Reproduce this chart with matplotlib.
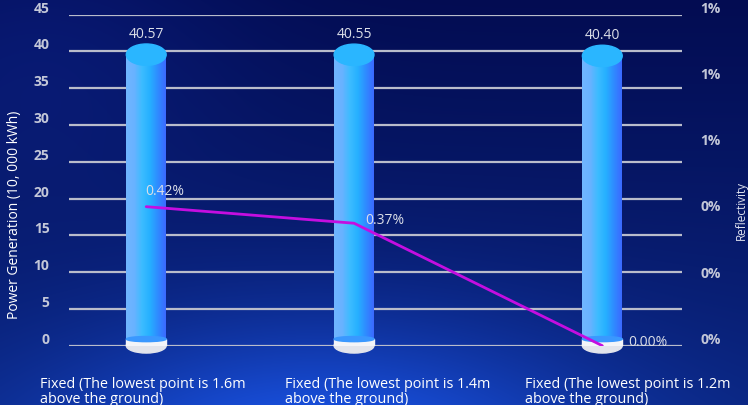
import numpy as np
import matplotlib
matplotlib.use("Agg")
import matplotlib.pyplot as plt
from matplotlib.patches import Ellipse, Rectangle
from matplotlib.colors import LinearSegmentedColormap

plt.rcParams['font.family'] = ['Open Sans', 'DejaVu Sans']

categories = ["Fixed (The lowest point is 1.6m\nabove the ground)",
              "Fixed (The lowest point is 1.4m\nabove the ground)",
              "Fixed (The lowest point is 1.2m\nabove the ground)"]
power = [40.57, 40.55, 40.40]          # 10,000 kWh
reflect = [0.42, 0.37, 0.00]           # percent
left_ticks = [0, 5, 10, 15, 20, 25, 30, 35, 40, 45]
right_ticks = [0, 0.2, 0.4, 0.6, 0.8, 1.0]

# layout: where each bar sits along the axis, label placements
slot_x = [0.126, 0.465, 0.870]
cat_label_x = [40, 285, 525]
pct_offsets = [(13, 12), (22, 3), (33, 3)]
bar_w = 0.065

W, H = 748, 406
fig = plt.figure(figsize=(W / 100, H / 100), dpi=100)

# background: dark navy with a soft lighter glow at the bottom
bg_ax = fig.add_axes([0, 0, 1, 1])
yy, xx = np.mgrid[0:H, 0:W]
t = yy / H
top = np.array([3, 12, 82]) / 255
bot = np.array([10, 36, 125]) / 255
bg = top[None, None, :] * (1 - t[..., None]) + bot[None, None, :] * t[..., None]
glow = np.exp(-(((xx - 320) / 280.0) ** 2 + ((yy - 460) / 140.0) ** 2))
bg += glow[..., None] * (np.array([16, 48, 105]) / 255)[None, None, :]
glow2 = np.exp(-(((xx - 40) / 200.0) ** 2 + ((yy - 40) / 160.0) ** 2))
bg += glow2[..., None] * (np.array([4, 10, 26]) / 255)[None, None, :]
bg_ax.imshow(np.clip(bg, 0, 1), aspect='auto', extent=[0, 1, 0, 1])
bg_ax.axis('off')

ax = fig.add_axes([69 / W, 1 - 346.7 / H, 613 / W, (346.7 - 15.7) / H])
ax.set_facecolor('none')
ax.set_yticks(left_ticks)
for v in left_ticks:
    ax.axhline(v, color='#b9bccb', lw=1.6, zorder=1)
for s in ax.spines.values():
    s.set_visible(False)
ax.set_xticks([])
ax.tick_params(axis='y', length=0, pad=14, labelsize=10, labelcolor='#c3c7d8')
for lab in ax.get_yticklabels():
    lab.set_fontweight('bold')
    lab.set_verticalalignment('bottom')

bar_cmap = LinearSegmentedColormap.from_list(
    'cyl', ['#70b6ff', '#69b2ff', '#3cbcff', '#26b0ff', '#2f8cff', '#3b6aff'])
grad = np.linspace(0, 1, 64)[None, :]
base_h = 0.9
cap_drop = 1.0
for x, v in zip(slot_x, power):
    # white base of the cylinder
    ax.add_patch(Ellipse((x, 0), bar_w, 2.0, color='#e2e4ec', zorder=2, clip_on=False))
    ax.add_patch(Rectangle((x - bar_w / 2, 0), bar_w, base_h, color='#f3f4f8', zorder=2))
    # blue body with a horizontal shading
    ax.imshow(grad, cmap=bar_cmap, aspect='auto', zorder=3,
              extent=[x - bar_w / 2, x + bar_w / 2, base_h, v - cap_drop])
    ax.add_patch(Ellipse((x, base_h), bar_w, 0.7, color='#3a98ff', zorder=3))
    ax.add_patch(Ellipse((x, v - cap_drop), bar_w, 2.9, color='#2ab6ff', zorder=4))
    ax.annotate(f'{v:.2f}', (x, v), xytext=(0, 10), textcoords='offset points',
                ha='center', va='center', color='#dcdfe8', fontsize=10, zorder=6)
ax.set_xlim(0, 1)
ax.set_ylim(0, 45)

ax2 = ax.twinx()
ax2.set_ylim(0, 1.0)
ax2.set_yticks(right_ticks)
ax2.set_yticklabels([f'{v:.0f}%' for v in right_ticks])
for s in ax2.spines.values():
    s.set_visible(False)
ax2.tick_params(axis='y', length=0, pad=13, labelsize=10, labelcolor='#c3c7d8')
for lab in ax2.get_yticklabels():
    lab.set_fontweight('bold')
    lab.set_verticalalignment('bottom')
ax2.plot(slot_x, reflect, color='#c40ee0', lw=2, zorder=5, solid_capstyle='round')
for x, r, off in zip(slot_x, reflect, pct_offsets):
    ax2.annotate(f'{r:.2f}%', (x, r), xytext=off, textcoords='offset points',
                 ha='center', va='center', color='#dcdfe8', fontsize=10, zorder=6)

fig.text(15 / W, 1 - 215 / H, 'Power Generation (10, 000 kWh)', rotation=90,
         ha='center', va='center', color='white', fontsize=10)
fig.text(741 / W, 1 - 211 / H, 'Reflectivity', rotation=90,
         ha='center', va='center', color='#dfe2ee', fontsize=8.5)
for lx, name in zip(cat_label_x, categories):
    fig.text(lx / W, 1 - 377 / H, name, ha='left', va='top', color='white',
             fontsize=10.4, linespacing=1.0)

fig.savefig('out.png', dpi=100)
